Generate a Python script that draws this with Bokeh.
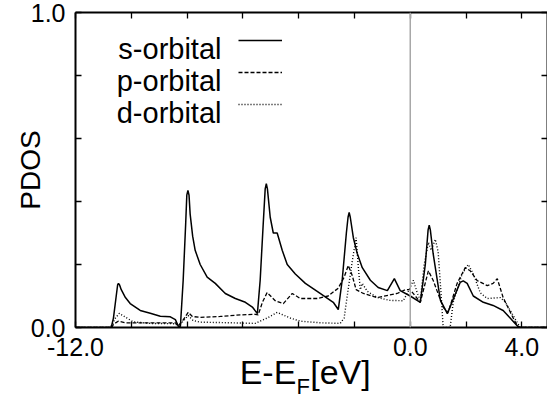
from bokeh.plotting import figure
from bokeh.models import (Span, Label, Legend, LegendItem, LinearAxis, FixedTicker,
                          PrintfTickFormatter, Range1d)
from bokeh.embed import file_html
from bokeh.resources import INLINE

# ---------------- data ----------------
s_E = [-12.0, -10.72, -10.64, -10.54, -10.49, -10.46, -10.42, -10.36, -10.21, -10.04, -9.68, -9.32, -8.96,
       -8.60, -8.42, -8.32, -8.24, -8.14, -8.05, -8.01, -7.97, -7.93, -7.89, -7.80, -7.71, -7.53, -7.28, -6.99,
       -6.63, -6.27, -5.91, -5.66, -5.48, -5.38, -5.27, -5.20, -5.16, -5.12, -5.02, -4.91, -4.77, -4.59,
       -4.41, -4.12, -3.76, -3.23, -2.76, -2.58, -2.44, -2.29, -2.23, -2.19, -2.15, -2.04, -1.90, -1.72,
       -1.43, -1.15, -0.82, -0.57, -0.36, 0.0, 0.36, 0.54, 0.64, 0.68, 0.72, 0.82, 1.08, 1.33, 1.54,
       1.79, 1.90, 2.04, 2.26, 2.62, 2.97, 3.33, 3.58, 3.84, 3.94, 4.9]
s_v = [0.0, 0.0, 0.03, 0.10, 0.135, 0.14, 0.135, 0.12, 0.095, 0.076, 0.054, 0.045, 0.036,
       0.034, 0.025, 0.005, 0.003, 0.15, 0.33, 0.42, 0.435, 0.42, 0.36, 0.29, 0.245, 0.20, 0.16, 0.14,
       0.108, 0.092, 0.08, 0.065, 0.044, 0.15, 0.33, 0.44, 0.457, 0.44, 0.35, 0.30, 0.30, 0.245,
       0.20, 0.17, 0.14, 0.108, 0.08, 0.057, 0.15, 0.30, 0.35, 0.365, 0.35, 0.285, 0.235, 0.19,
       0.15, 0.127, 0.117, 0.155, 0.117, 0.10, 0.08, 0.20, 0.31, 0.325, 0.31, 0.235, 0.087, 0.044, 0.09,
       0.143, 0.148, 0.14, 0.10, 0.08, 0.07, 0.054, 0.03, 0.005, 0.0, 0.0]

p_E = [-12.0, -10.7, -10.64, -10.47, -10.2, -9.3, -8.42, -8.32, -8.17, -7.96, -7.81, -7.53,
       -6.81, -6.09, -5.56, -5.45, -5.30, -5.13, -4.84, -4.55, -4.23, -3.94, -3.33, -2.94,
       -2.58, -2.37, -2.22, -2.08, -1.94, -1.68, -1.18, -0.47, -0.18, 0.0, 0.18, 0.36,
       0.65, 0.82, 1.18, 1.36, 1.68, 1.97, 2.15, 2.40, 2.76, 2.97, 3.12, 3.33, 3.69, 3.87, 4.9]
p_v = [0.0, 0.0, 0.01, 0.02, 0.015, 0.015, 0.015, 0.005, 0.02, 0.048, 0.035, 0.032,
       0.035, 0.04, 0.042, 0.04, 0.08, 0.111, 0.085, 0.076, 0.108, 0.092, 0.092, 0.10,
       0.125, 0.16, 0.197, 0.165, 0.12, 0.108, 0.095, 0.108, 0.12, 0.12, 0.10, 0.08,
       0.18, 0.15, 0.064, 0.048, 0.14, 0.19, 0.18, 0.149, 0.133, 0.14, 0.155, 0.095, 0.03, 0.0, 0.0]

d_E = [-12.0, -10.75, -10.68, -10.57, -10.43, -10.25, -9.93, -9.32, -8.42, -8.32, -8.14,
       -7.96, -7.78, -7.53, -6.45, -5.56, -5.13, -4.77, -4.30, -3.94, -3.23, -2.51, -2.37,
       -2.26, -2.08, -1.94, -1.86, -1.79, -1.72, -1.54, -1.18, -0.72, -0.25, -0.04, 0.11,
       0.25, 0.36, 0.50, 0.65, 0.75, 0.90, 1.0, 1.11, 1.18, 1.43, 1.54, 1.86, 2.08, 2.26,
       2.51, 2.76, 3.23, 3.41, 3.69, 3.94, 4.9]
d_v = [0.0, 0.0, 0.01, 0.03, 0.045, 0.035, 0.018, 0.013, 0.012, 0.003, 0.02,
       0.038, 0.022, 0.017, 0.015, 0.013, 0.03, 0.048, 0.03, 0.02, 0.015, 0.013, 0.03,
       0.10, 0.21, 0.285, 0.19, 0.12, 0.14, 0.115, 0.095, 0.086, 0.085, 0.12, 0.15,
       0.11, 0.086, 0.20, 0.27, 0.245, 0.28, 0.24, 0.10, 0.0, 0.0, 0.08, 0.17, 0.20, 0.17,
       0.11, 0.092, 0.095, 0.08, 0.038, 0.0, 0.0]

x_major = [-12, 0, 4]
x_minor = [-10, -8, -6, -4, -2, 2]
y_major = [0, 1]
y_minor = [0.2, 0.4, 0.6, 0.8]
series_names = ["s-orbital", "p-orbital", "d-orbital"]
x_title_parts = ["E-E", "[eV]"]     # main part of the x title
x_title_sub = "F"                   # subscript
y_title = "PDOS"

FONT = "Liberation Sans"

p = figure(width=547, height=401, output_backend="svg", toolbar_location=None,
           x_range=Range1d(-12, 4.92), y_range=Range1d(0, 1.0),
           min_border_left=75, min_border_right=0, min_border_top=12, min_border_bottom=74,
           x_axis_location=None, y_axis_location=None)
p.grid.visible = False
p.outline_line_color = None
p.background_fill_color = "white"
p.border_fill_color = "white"

# Fermi level line
p.add_layout(Span(location=0, dimension="height", line_color="#a8a8a8", line_width=1.5))

r_s = p.line(s_E, s_v, line_color="black", line_width=1.5)
r_p = p.line(p_E, p_v, line_color="black", line_width=1.3, line_dash="4 2")
r_d = p.line(d_E, d_v, line_color="black", line_width=1.4, line_dash="1 2")

def make_axis(ticks, minor, show_labels):
    ax = LinearAxis(ticker=FixedTicker(ticks=ticks, minor_ticks=minor),
                    formatter=PrintfTickFormatter(format="%.1f"))
    ax.axis_line_color = "black"
    ax.axis_line_width = 2
    ax.major_tick_in = 6
    ax.major_tick_out = 0
    ax.minor_tick_in = 6
    ax.minor_tick_out = 0
    ax.major_tick_line_width = 1.3
    ax.minor_tick_line_width = 1.3
    if show_labels:
        ax.major_label_text_font = FONT
        ax.major_label_text_font_size = "25px"
        ax.major_label_text_color = "black"
        ax.major_label_standoff = 10
    else:
        ax.major_label_text_font_size = "0px"
        ax.major_label_standoff = 0
    return ax

xb = make_axis(x_major, x_minor, True)
yl = make_axis(y_major, y_minor, True)
yl.axis_label = y_title
yl.axis_label_text_font = FONT
yl.axis_label_text_font_style = "normal"
yl.axis_label_text_font_size = "28px"
yl.axis_label_text_color = "black"
yl.axis_label_standoff = -18
p.add_layout(xb, "below")
p.add_layout(yl, "left")
p.add_layout(make_axis(x_major, x_minor, False), "above")
p.add_layout(make_axis(y_major, y_minor, False), "right")

# x-axis title "E-E_F[eV]" built from two label-only axes (main text + subscript)
def text_axis(ticks, texts, size, standoff):
    ax = LinearAxis(ticker=FixedTicker(ticks=ticks, minor_ticks=[]),
                    major_label_overrides=dict(zip(ticks, texts)))
    ax.axis_line_color = None
    ax.major_tick_line_color = None
    ax.minor_tick_line_color = None
    ax.major_tick_in = 0
    ax.major_tick_out = 0
    ax.major_label_text_font = FONT
    ax.major_label_text_font_size = size
    ax.major_label_text_color = "black"
    ax.major_label_standoff = standoff
    return ax

p.add_layout(text_axis([-5.1, -2.5], x_title_parts, "34px", -6), "below")
p.add_layout(text_axis([-3.84], [x_title_sub], "22px", -20), "below")

# legend (text left of the sample line, gnuplot style)
legend = Legend(items=[LegendItem(label=" ", renderers=[r]) for r in (r_s, r_p, r_d)],
                location=(163, 207), glyph_width=44, glyph_height=32, label_height=32,
                label_width=1, label_standoff=0, spacing=0, padding=0, margin=0,
                label_text_font_size="2px", border_line_alpha=0, background_fill_alpha=0)
p.add_layout(legend)
for name, yb in zip(series_names, [279, 247, 215]):
    p.add_layout(Label(x=146, y=yb, x_units="screen", y_units="screen", text=name,
                       text_align="right", text_baseline="alphabetic",
                       text_font=FONT, text_font_size="29px", text_color="black"))

open("out.html", "w").write(file_html(p, INLINE))
